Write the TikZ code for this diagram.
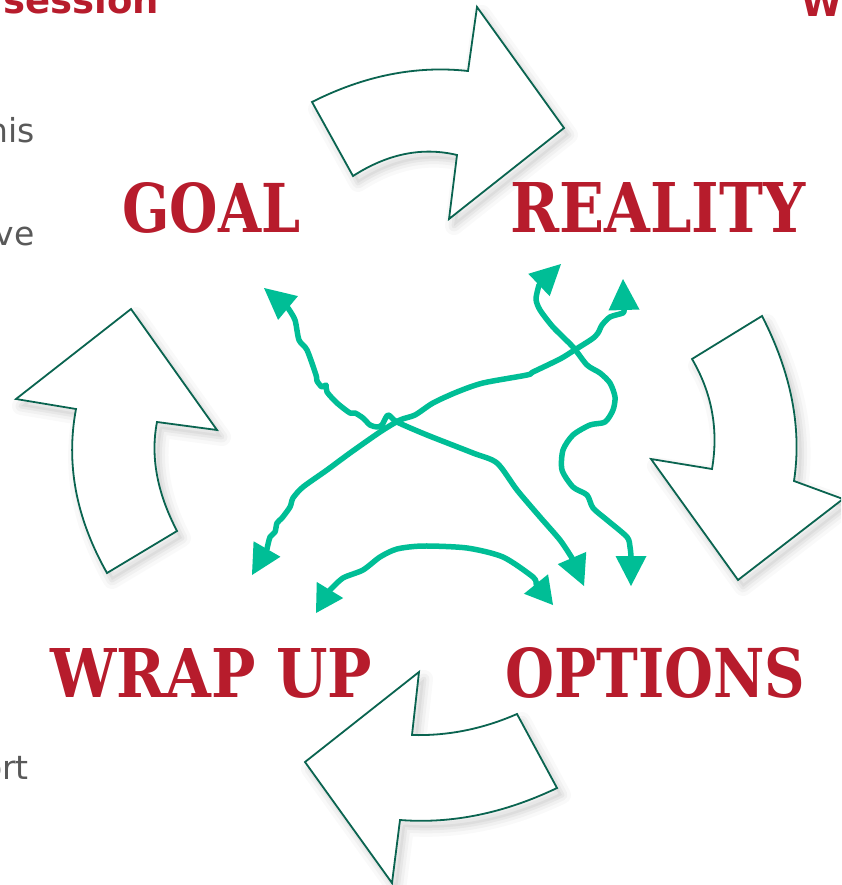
\documentclass[tikz,border=0pt]{standalone}
\usepackage{fontspec}
\usetikzlibrary{calc}
\newfontfamily\labfont{DejaVu Serif}
\newfontfamily\sansfont{DejaVu Sans}
\definecolor{labred}{RGB}{183,28,44}
\definecolor{flowgreen}{RGB}{0,190,150}
\definecolor{outlinegreen}{RGB}{10,100,80}
\definecolor{graytext}{RGB}{89,89,89}
\tikzset{
  blockarrow/.style={draw=outlinegreen, line width=1.8pt, fill=white, line join=miter},
  flow/.style={draw=flowgreen, line width=5.5pt, line cap=round, line join=round},
  biglabel/.style={inner sep=0pt, anchor=north west, text=labred},
  sidetext/.style={inner sep=0pt, anchor=base east, text=graytext, font=\sansfont\fontsize{33}{38}\selectfont},
  toptext/.style={inner sep=0pt, text=labred, font=\sansfont\bfseries\fontsize{37}{40}\selectfont},
}
\newcommand\ghead[2]{\fill[flowgreen] (#1) -- ($(#2)!15.5pt!90:(#1)$) -- ($(#2)!15.5pt!-90:(#1)$) -- cycle;}
\newcommand\softshadow[1]{%
  \begin{scope}[shift={(5,7)}]
    \fill[black, opacity=0.04] #1;
    \draw[black, opacity=0.025, line width=18pt, line join=round] #1;
    \draw[black, opacity=0.03, line width=11pt, line join=round] #1;
    \draw[black, opacity=0.04, line width=5pt, line join=round] #1;
  \end{scope}}
\def\arrowA{(312,102) .. controls (364,75.7) and (416,65.3) .. (468,71) -- (477,7) -- (564,128) -- (449,219) -- (457,155) .. controls (422.3,146.7) and (387.7,153.7) .. (353,176) -- cycle}
\def\arrowB{(762,316) -- (692,359) .. controls (712,393) and (718.7,429.7) .. (712,469) -- (651,459) -- (738,580) -- (843,499) -- (794,481) .. controls (802,428) and (791.3,373) .. (762,316) -- cycle}
\def\arrowC{(517,714) .. controls (482.7,729) and (447.7,736) .. (412,735) -- (419,672) -- (305,762) -- (392,883) -- (400,820) .. controls (451.7,824) and (504,813.3) .. (557,788) -- cycle}
\def\arrowD{(131,309) -- (217,430) -- (157,422) .. controls (150.3,456.3) and (157,492.7) .. (177,531) -- (107,573) .. controls (76,518.3) and (65.7,463.7) .. (76,409) -- (16,399) -- cycle}
\begin{document}
\begin{tikzpicture}[x=1pt,y=-1pt]
\useasboundingbox (0,0) rectangle (841,885);
\clip (0,0) rectangle (841,885);
\fill[white] (0,0) rectangle (841,885);

% cut-off texts at the edges
\node[toptext, anchor=base west] (session) at (3,14) {session};
\node[toptext, anchor=base west] (wtop) at (801,17) {W};
\node[sidetext] (his) at (35,143) {his};
\node[sidetext] (ve) at (35,245) {ve};
\node[sidetext] (ort) at (29,779) {ort};

% block arrows of the cycle
\softshadow{\arrowA}
\path[blockarrow] \arrowA;
\softshadow{\arrowB}
\path[blockarrow] \arrowB;
\softshadow{\arrowC}
\path[blockarrow] \arrowC;
\softshadow{\arrowD}
\path[blockarrow] \arrowD;

% labels
\node[biglabel] (goal) at (122,182) {\resizebox{178pt}{50pt}{\labfont\bfseries GOAL}};
\node[biglabel] (reality) at (510,182) {\resizebox{295pt}{50pt}{\labfont\bfseries REALITY}};
\node[biglabel] (wrapup) at (50,648) {\resizebox{322pt}{49pt}{\labfont\bfseries WRAP UP}};
\node[biglabel] (options) at (505,647) {\resizebox{300pt}{50pt}{\labfont\bfseries OPTIONS}};

% green connectors
\draw[flow] plot[smooth, tension=0.45] coordinates {(288,308) (295,320) (299,340) (307,350) (316,375) (317,381) (322,387) (326,385) (327,392) (337,403) (350,413) (355,413) (363,418) (370,425) (377,427) (382,425) (388,415) (397,422) (427,435) (473,453) (497,463) (517,490) (540,517) (560,540) (572,558)};
\ghead{264,288}{288,308}
\ghead{584,586}{572,558}

\draw[flow] plot[smooth, tension=0.45] coordinates {(267,549) (270,537) (275,532) (277,523) (282,518) (290,507) (293,498) (303,487) (327,470) (350,453) (380,432) (400,420) (415,415) (433,403) (457,392) (483,383) (527,375) (533,372) (560,359) (573,351) (592,339) (598,333) (602,325) (610,317) (623,313) (624,310)};
\ghead{252,575}{267,549}
\ghead{623,279}{624,310}

\draw[flow] plot[smooth, tension=0.45] coordinates {(539,285) (536,299) (540,310) (553,327) (573,347) (587,365) (600,373) (610,383) (615,397) (613,410) (605,422) (590,425) (573,435) (563,450) (562,470) (573,487) (587,495) (593,508) (607,520) (627,537) (630,547) (631,556)};
\ghead{561,264}{539,285}
\ghead{631,586}{631,556}

\draw[flow] plot[smooth, tension=0.45] coordinates {(330,590) (343,578) (363,570) (380,557) (397,549) (423,546) (467,548) (503,557) (533,577) (536,584)};
\ghead{316,613}{330,590}
\ghead{553,605}{536,584}
\end{tikzpicture}
\end{document}
